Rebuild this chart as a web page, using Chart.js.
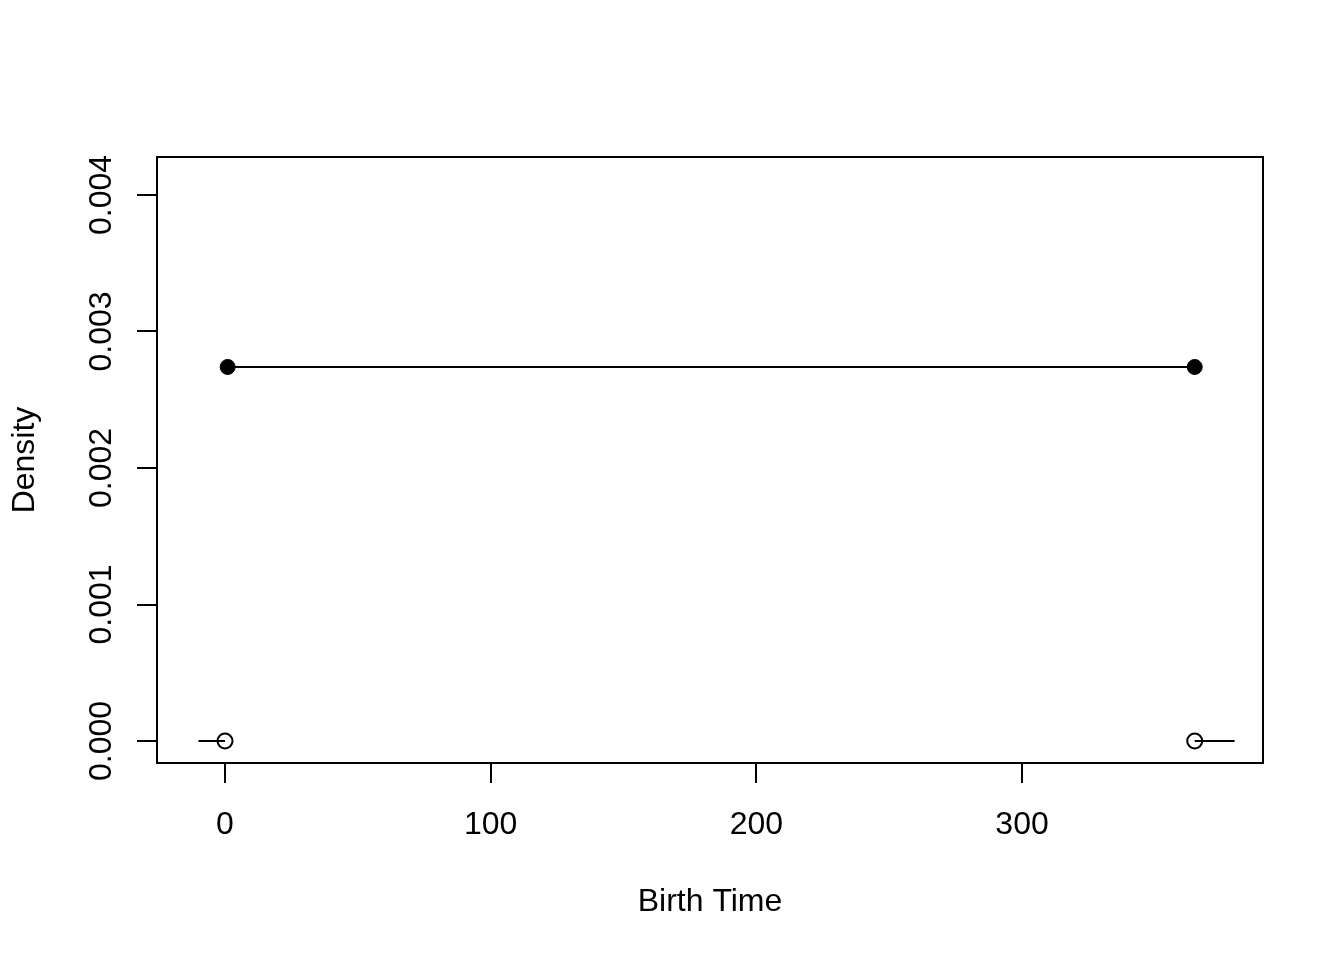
<!DOCTYPE html>
<html>
<head>
<meta charset="utf-8">
<script src="https://cdn.jsdelivr.net/npm/chart.js@4/dist/chart.umd.min.js"></script>
<style>
  html, body { margin: 0; padding: 0; background: #fff; }
  #wrap { width: 1344px; height: 960px; }
</style>
</head>
<body>
<div id="wrap"><canvas id="densityChart" width="1344" height="960"></canvas></div>
<script>
// density of birth time (uniform over the year)
var densityX = [1, 365];
var densityY = [0.00274, 0.00274];
// zero density outside the support
var leftZeroX = [-10, 0];
var rightZeroX = [365, 380];
var zeroY = [0, 0];
// open circles at the jumps
var openX = [0, 365];
var openY = [0, 0];

var xTicks = [0, 100, 200, 300];
var yTicks = [0, 0.001, 0.002, 0.003, 0.004];
var xLimits = [-25.6, 390.7];
var yLimits = [-0.000161, 0.004278];

function pts(xs, ys) {
    return xs.map(function(x, i){ return {x: x, y: ys[i]}; });
}

var FONT = 'Liberation Sans, Arial, Helvetica, sans-serif';

var boxPlugin = {
    id: 'box',
    afterDraw: function(chart) {
        var a = chart.chartArea, ctx = chart.ctx;
        ctx.save();
        ctx.strokeStyle = '#000';
        ctx.lineWidth = 2;
        ctx.strokeRect(a.left, a.top, a.right - a.left, a.bottom - a.top);
        ctx.restore();
    }
};

var ctx = document.getElementById('densityChart').getContext('2d');
var chart = new Chart(ctx, {
    type: 'scatter',
    data: {
        datasets: [
        {
            label: 'density',
            data: pts(densityX, densityY),
            showLine: true,
            borderColor: '#000',
            borderWidth: 2,
            pointRadius: 7.5,
            pointBackgroundColor: '#000',
            pointBorderColor: '#000',
            pointBorderWidth: 1
        },
        {
            label: 'left zero',
            data: pts(leftZeroX, zeroY),
            showLine: true,
            borderColor: '#000',
            borderWidth: 2,
            pointRadius: 0
        },
        {
            label: 'right zero',
            data: pts(rightZeroX, zeroY),
            showLine: true,
            borderColor: '#000',
            borderWidth: 2,
            pointRadius: 0
        },
        {
            label: 'open',
            data: pts(openX, openY),
            showLine: false,
            pointRadius: 7.5,
            pointBackgroundColor: '#fff',
            pointBorderColor: '#000',
            pointBorderWidth: 2
        }
        ]
    },
    options: {
        responsive: false,
        animation: false,
        devicePixelRatio: 1,
        layout: { padding: { top: 157, right: 81, left: 0, bottom: 0 } },
        plugins: {
            legend: { display: false },
            tooltip: { enabled: false }
        },
        scales: {
            x: {
                type: 'linear',
                min: xLimits[0],
                max: xLimits[1],
                afterBuildTicks: function(scale){ scale.ticks = xTicks.map(function(v){ return {value: v}; }); },
                afterFit: function(scale){ scale.height = 197; },
                grid: { drawOnChartArea: false, drawTicks: true, tickLength: 20, color: '#000', lineWidth: 2 },
                border: { display: true, color: '#000', width: 2 },
                ticks: {
                    color: '#000',
                    font: { family: FONT, size: 32 },
                    padding: 23,
                    minRotation: 0, maxRotation: 0,
                    callback: function(v){ return String(v); }
                },
                title: {
                    display: true,
                    text: 'Birth Time',
                    color: '#000',
                    font: { family: FONT, size: 32 },
                    padding: { bottom: 39, top: 0 }
                }
            },
            y: {
                type: 'linear',
                min: yLimits[0],
                max: yLimits[1],
                afterBuildTicks: function(scale){ scale.ticks = yTicks.map(function(v){ return {value: v}; }); },
                afterFit: function(scale){ scale.width = 157; },
                grid: { drawOnChartArea: false, drawTicks: true, tickLength: 20, color: '#000', lineWidth: 2 },
                border: { display: true, color: '#000', width: 2 },
                ticks: {
                    color: '#000',
                    font: { family: FONT, size: 32 },
                    padding: -5,
                    minRotation: 90, maxRotation: 90,
                    crossAlign: 'center',
                    callback: function(v){ return v.toFixed(3); }
                },
                title: {
                    display: true,
                    text: 'Density',
                    color: '#000',
                    font: { family: FONT, size: 32 },
                    padding: { top: 6, bottom: 0 }
                }
            }
        }
    },
    plugins: [boxPlugin]
});
</script>
</body>
</html>
